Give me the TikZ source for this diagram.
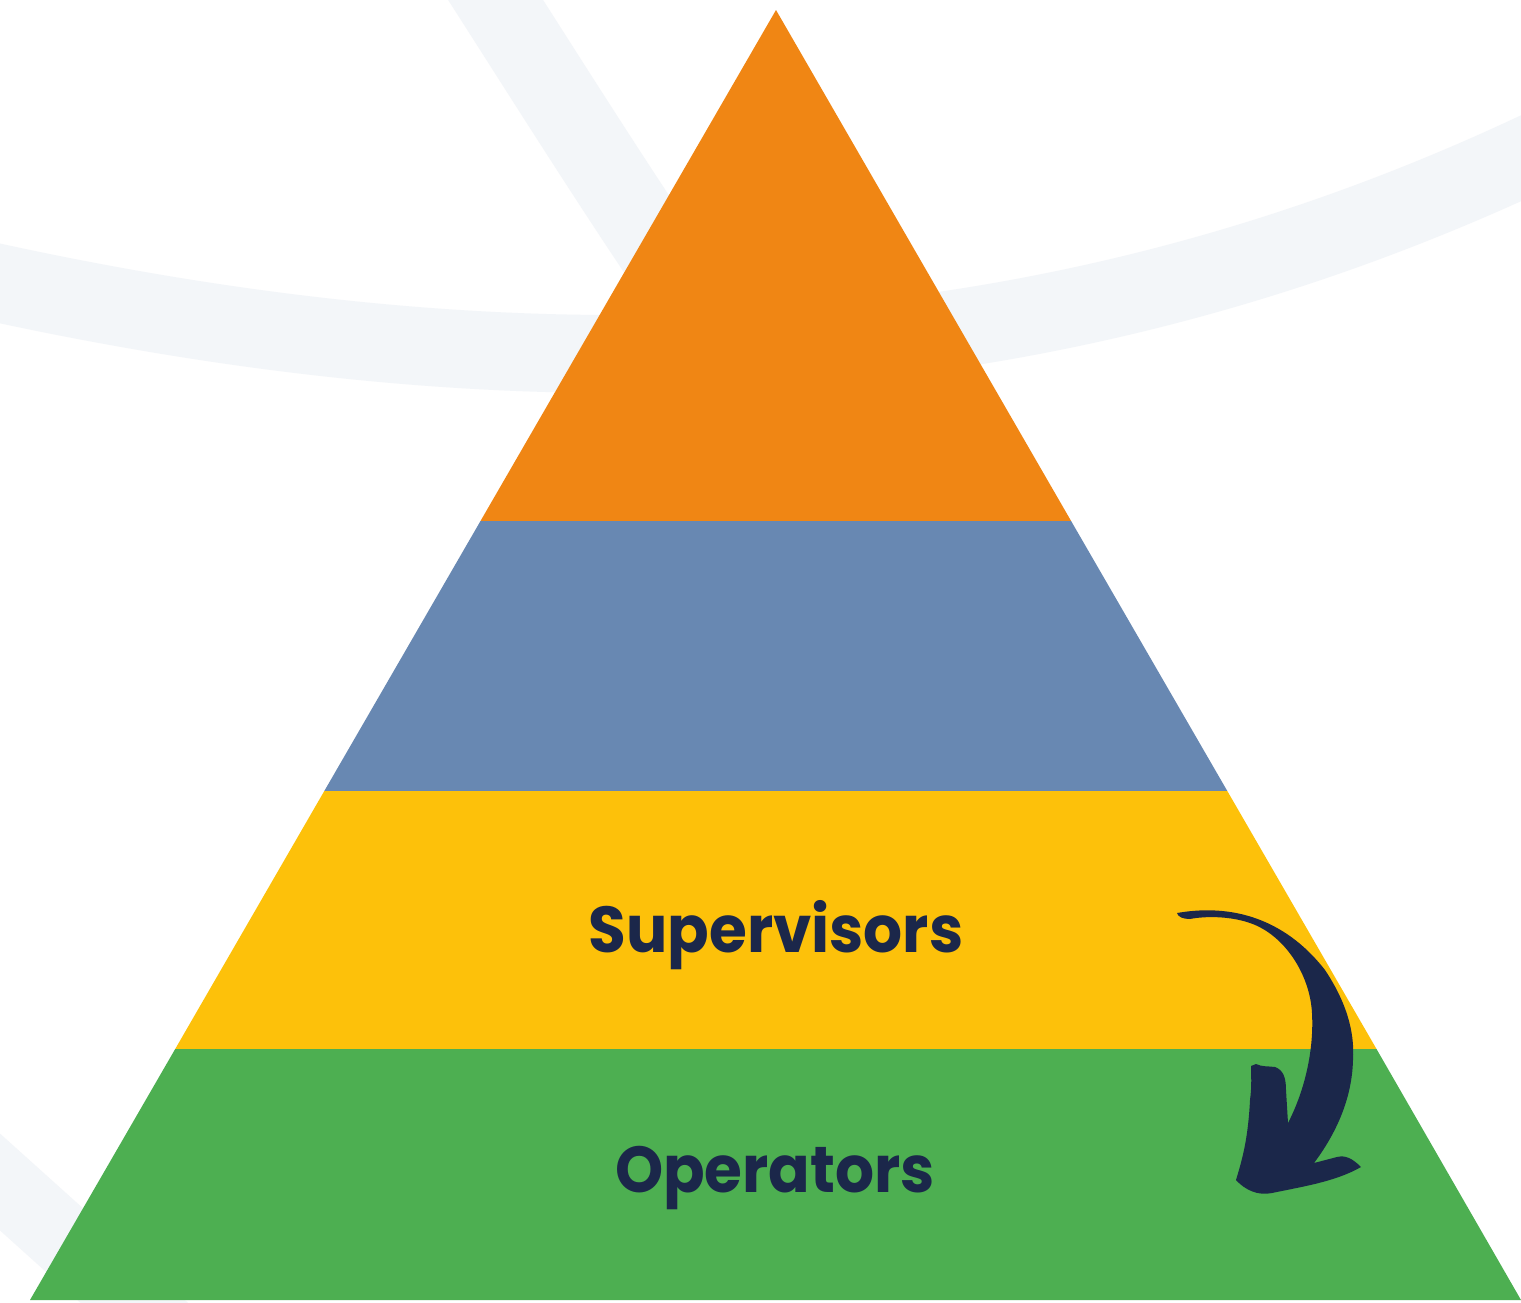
\documentclass[tikz,border=0pt]{standalone}
\usepackage{fontspec}
\newfontfamily\labelfont{Poppins}[UprightFont=* Bold]
\definecolor{bgcurve}{HTML}{F3F6F9}
\definecolor{orangetier}{HTML}{F08614}
\definecolor{bluetier}{HTML}{6888B2}
\definecolor{yellowtier}{HTML}{FDC10A}
\definecolor{greentier}{HTML}{4DAF51}
\definecolor{navy}{HTML}{1B274A}
\newcommand{\narrowtext}[1]{\scalebox{0.943}[1]{#1}}
\tikzset{
  bgband/.style={draw=bgcurve, line cap=butt},
  tier/.style={draw=none},
  tierlabel/.style={font=\labelfont\fontsize{65}{70}\selectfont, text=navy, anchor=base, inner sep=0pt}
}
\begin{document}
\begin{tikzpicture}[x=1pt,y=-1pt]
\useasboundingbox (0,0) rectangle (1521,1302);
\fill[white] (0,0) rectangle (1521,1302);
% background curves
\begin{scope}
\clip (0,0) rectangle (1521,1302);
\draw[bgband, line width=78pt] (-60,270) .. controls (500,400) and (1050,400) .. (1600,120);
\draw[bgband, line width=80pt] (470,-40) .. controls (560,100) and (640,230) .. (760,400);
\draw[bgband, line width=72pt] (-60,1128) -- (220,1380);
\end{scope}
% pyramid tiers
\coordinate (apex) at (776,10);
\fill[tier, orangetier] (apex) -- (1071.1,521) -- (480.5,521) -- cycle;
\fill[tier, bluetier] (480.5,521) -- (1071.1,521) -- (1227.3,791) -- (324.3,791) -- cycle;
\fill[tier, yellowtier] (324.3,791) -- (1227.3,791) -- (1376.5,1049) -- (175.2,1049) -- cycle;
\fill[tier, greentier] (175.2,1049) -- (1376.5,1049) -- (1521,1300) -- (30,1300) -- cycle;
% labels
\node[tierlabel] (sup) at (776,952) {\narrowtext{Supervisors}};
\node[tierlabel] (ops) at (775,1192) {\narrowtext{Operators}};
% arrow
\fill[navy] (1177,913) .. controls (1240,902) and (1290,925) .. (1325,970)
  .. controls (1345,1000) and (1355,1030) .. (1353,1060)
  .. controls (1352,1100) and (1335,1135) .. (1314,1163)
  -- (1337,1157) .. controls (1345,1155) and (1352,1158) .. (1361,1167)
  .. controls (1335,1182) and (1300,1187) .. (1272,1193)
  .. controls (1258,1196) and (1245,1190) .. (1236,1180)
  .. controls (1242,1160) and (1248,1140) .. (1250,1100)
  .. controls (1252,1085) and (1251,1075) .. (1251,1066)
  -- (1256,1064) .. controls (1262,1067) and (1268,1066) .. (1275,1067)
  .. controls (1283,1070) and (1286,1077) .. (1286,1090) -- (1288,1123)
  .. controls (1305,1090) and (1314,1050) .. (1312,1013)
  .. controls (1310,975) and (1285,935) .. (1250,923)
  .. controls (1230,916) and (1205,916) .. (1190,919)
  .. controls (1183,919) and (1178,917) .. cycle;
\end{tikzpicture}
\end{document}
